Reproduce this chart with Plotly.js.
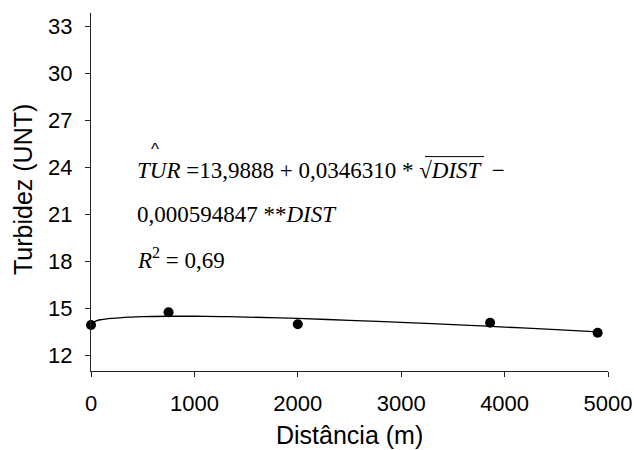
<!DOCTYPE html>
<html>
<head>
<meta charset="utf-8">
<script src="https://cdn.plot.ly/plotly-3.0.1.min.js"></script>
<style>html,body{margin:0;padding:0;background:#fff;}#chart{width:634px;height:450px;}</style>
</head>
<body>
<div id="chart"></div>
<script>
// Observed points
const distObs = [0, 750, 2000, 3860, 4900];
const turObs = [13.93, 14.74, 13.98, 14.08, 13.44];
// Fitted curve
const distFit = [0, 50, 100, 200, 300, 400, 500, 750, 1000, 1250, 1500, 2000, 2500, 3000, 3500, 4000, 4500, 4900];
const turFit = [13.99, 14.20, 14.28, 14.36, 14.41, 14.44, 14.47, 14.49, 14.49, 14.47, 14.44, 14.35, 14.23, 14.10, 13.96, 13.80, 13.64, 13.50];
const xTicks = [0, 1000, 2000, 3000, 4000, 5000];
const yTicks = [12, 15, 18, 21, 24, 27, 30, 33];

const serif = "Liberation Serif, Times New Roman, serif";
const sans = "Liberation Sans, Arial, sans-serif";

const traces = [
  {x: distFit, y: turFit, mode: 'lines', line: {color: '#000', width: 1.3, shape: 'spline'}, hoverinfo: 'skip', cliponaxis: false},
  {x: distObs, y: turObs, mode: 'markers', marker: {color: '#000', size: 10}, cliponaxis: false}
];

const layout = {
  width: 634, height: 450,
  margin: {l: 91, r: 26, t: 13, b: 79},
  paper_bgcolor: '#fff', plot_bgcolor: '#fff',
  showlegend: false,
  font: {family: sans, color: '#000'},
  xaxis: {
    range: [0, 5000], tickvals: xTicks, ticktext: xTicks.map(String),
    showgrid: false, zeroline: false, showline: true, linecolor: '#222', linewidth: 1,
    ticks: 'outside', ticklen: 5, tickcolor: '#222', tickfont: {family: sans, size: 22, color: '#000'},
    ticklabelstandoff: 8
  },
  yaxis: {
    range: [11, 33.83], tickvals: yTicks, ticktext: yTicks.map(String),
    showgrid: false, zeroline: false, showline: true, linecolor: '#222', linewidth: 1,
    ticks: 'outside', ticklen: 5, tickcolor: '#222', tickfont: {family: sans, size: 22, color: '#000'},
    ticklabelstandoff: 8
  },
  shapes: [
    {type: 'line', xref: 'paper', yref: 'paper', x0: 0.6459, x1: 0.7600, y0: 0.5989, y1: 0.5989,
     line: {color: '#000', width: 1}}
  ],
  annotations: [
    {xref: 'paper', yref: 'paper', x: 0.5, y: -0.180, text: 'Distância (m)', showarrow: false,
     xanchor: 'center', yanchor: 'middle', font: {family: sans, size: 25, color: '#000'}},
    {xref: 'paper', yref: 'paper', x: -0.1318, y: 0.508, text: 'Turbidez (UNT)', showarrow: false, textangle: -90,
     xanchor: 'center', yanchor: 'middle', font: {family: sans, size: 25, color: '#000'}},
    {xref: 'paper', yref: 'paper', x: 0.1242, y: 0.6175, text: '^', showarrow: false,
     xanchor: 'center', yanchor: 'middle', font: {family: sans, size: 17, color: '#000'}},
    {xref: 'paper', yref: 'paper', x: 0.0856, y: 0.5590, text: '<i>TUR</i> =13,9888 + 0,0346310 * √<i>DIST</i>  −', showarrow: false,
     xanchor: 'left', yanchor: 'middle', font: {family: serif, size: 23, color: '#000'}},
    {xref: 'paper', yref: 'paper', x: 0.0856, y: 0.4380, text: '0,000594847 **<i>DIST</i>', showarrow: false,
     xanchor: 'left', yanchor: 'middle', font: {family: serif, size: 23, color: '#000'}},
    {xref: 'paper', yref: 'paper', x: 0.0856, y: 0.3150, text: '<i>R</i><sup>2</sup> = 0,69', showarrow: false,
     xanchor: 'left', yanchor: 'middle', font: {family: serif, size: 23, color: '#000'}}
  ]
};

Plotly.newPlot('chart', traces, layout, {displayModeBar: false, staticPlot: true});
</script>
</body>
</html>
